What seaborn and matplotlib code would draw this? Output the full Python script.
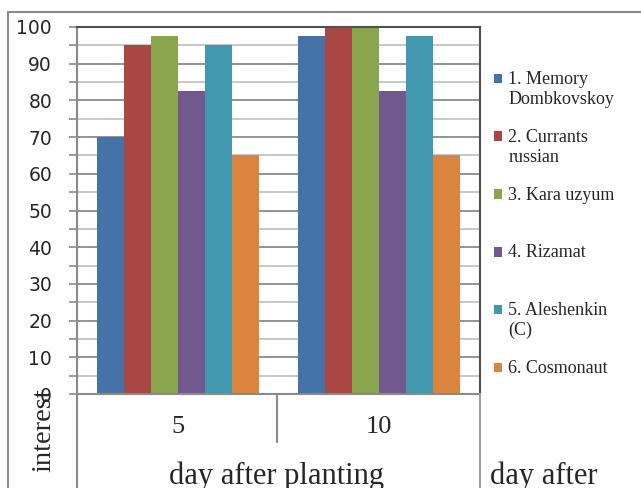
import pandas as pd
import matplotlib.pyplot as plt
import seaborn as sns
from matplotlib.lines import Line2D
from matplotlib.ticker import MultipleLocator

sns.set_style("white")
plt.rcParams['font.family'] = ['Liberation Serif', 'DejaVu Serif']

# data
days = ['5', '10']
varieties = ['1. Memory\nDombkovskoy', '2. Currants\nrussian', '3. Kara uzyum',
             '4. Rizamat', '5. Aleshenkin\n(C)', '6. Cosmonaut']
day5 = [70, 95, 97.5, 82.5, 95, 65]
day10 = [97.5, 100, 100, 82.5, 97.5, 65]
colors = ['#4572A7', '#AA4643', '#89A54E', '#71588F', '#4198AF', '#DB843D']

df = pd.DataFrame({
    'day': [days[0]] * len(varieties) + [days[1]] * len(varieties),
    'variety': varieties + varieties,
    'value': day5 + day10,
})

fig = plt.figure(figsize=(6.41, 4.88), dpi=100)
ax = fig.add_axes([77 / 641, 1 - 394 / 488, 403 / 641, 367 / 488])

sns.barplot(data=df, x='day', y='value', hue='variety', palette=colors,
            width=0.805, linewidth=0, saturation=1, ax=ax)

ax.set_ylim(0, 100)
ax.set_xlim(-0.5, 1.5)
ax.yaxis.set_major_locator(MultipleLocator(10))
ax.yaxis.set_minor_locator(MultipleLocator(5))
ax.grid(which='major', axis='y', color='#8a8a8a', linewidth=1.3)
ax.grid(which='minor', axis='y', color='#c4c4c4', linewidth=1.3)
ax.set_axisbelow(True)
ax.tick_params(axis='y', which='both', direction='out', length=6, width=1.2,
               color='#8a8a8a', left=True)
ax.tick_params(axis='y', which='major', pad=12, labelsize=13.5)
for lab in ax.get_yticklabels():
    lab.set_family(['DejaVu Sans'])
ax.tick_params(axis='x', length=0, pad=16, labelsize=19)

for side in ['left', 'bottom']:
    ax.spines[side].set_color('#8a8a8a')
    ax.spines[side].set_linewidth(1.5)
for side in ['top', 'right']:
    ax.spines[side].set_color('#505050')
    ax.spines[side].set_linewidth(1.5)

ax.set_xlabel('')
ax.set_ylabel('')

# legend: every entry takes two lines, marker level with the first line
handles, labels = ax.get_legend_handles_labels()
labels = [l if '\n' in l else l + '\n ' for l in labels]
leg = ax.legend(handles, labels, loc='upper left',
                bbox_to_anchor=(487 / 641, 1 - 64 / 488),
                bbox_transform=fig.transFigure, frameon=False, fontsize=13,
                handlelength=0.45, handleheight=0.45, handletextpad=0.33,
                labelspacing=1.17, borderaxespad=0)
for h in leg.legend_handles:
    h.set_y(h.get_y() + 8)

# table-like lines under the plot and outer frame
def fline(x0, y0, x1, y1, color='#8a8a8a', lw=1.5):
    fig.add_artist(Line2D([x0 / 641, x1 / 641], [1 - y0 / 488, 1 - y1 / 488],
                          color=color, linewidth=lw, transform=fig.transFigure))

fline(77, 394, 77, 488)
fline(277, 394, 277, 442)
fline(480, 394, 480, 488, color='#a0a0a0')
fline(8, 12, 641, 12)
fline(8, 12, 8, 488)

fig.text(277 / 641, 1 - 476 / 488, 'day after planting', ha='center', va='center', fontsize=22)
fig.text(490 / 641, 1 - 476 / 488, 'day after', ha='left', va='center', fontsize=22)
fig.text(44 / 641, 1 - 472 / 488, 'interest', ha='center', va='bottom', rotation=90, fontsize=20.5)

fig.savefig('out.png', dpi=100)
